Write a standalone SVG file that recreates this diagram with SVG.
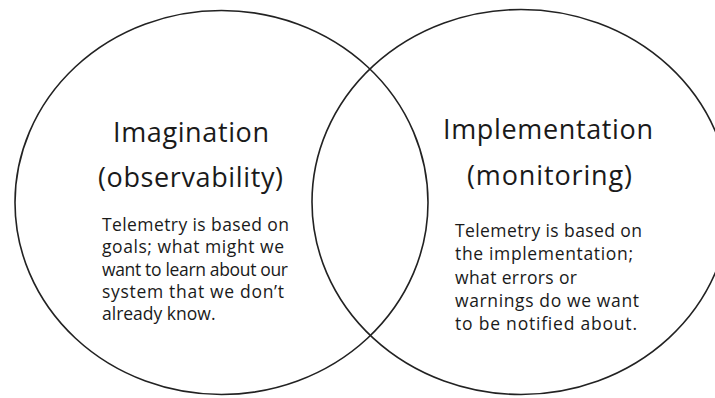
<svg xmlns="http://www.w3.org/2000/svg" width="715" height="398" viewBox="0 0 715 398">
<style>
.ring{fill:none;stroke:#222;stroke-width:1.6}
.title{font-family:"Open Sans","Noto Sans","Liberation Sans",sans-serif;font-size:27px;fill:#1a1a1a;font-variant-ligatures:none}
.body{font-family:"Open Sans","Noto Sans","Liberation Sans",sans-serif;font-size:17.5px;fill:#1a1a1a;font-variant-ligatures:none}
</style>
<rect width="715" height="398" fill="#fff"/>
<g id="imagination">
<ellipse class="ring" cx="221.5" cy="202.5" rx="206.5" ry="192"/>
<text class="title" x="113" y="142" textLength="156">Imagination</text>
<text class="title" x="98" y="187" textLength="185">(observability)</text>
<text class="body" x="102" y="231" textLength="187">Telemetry is based on</text>
<text class="body" x="102" y="253" textLength="182">goals; what might we</text>
<text class="body" x="102" y="276" textLength="186">want to learn about our</text>
<text class="body" x="102" y="298" textLength="182">system that we don’t</text>
<text class="body" x="102" y="320">already know.</text>
</g>
<g id="implementation">
<ellipse class="ring" cx="521" cy="202" rx="209" ry="192.5"/>
<text class="title" x="443" y="139" textLength="210">Implementation</text>
<text class="title" x="467" y="185" textLength="165">(monitoring)</text>
<text class="body" x="455" y="237" textLength="187">Telemetry is based on</text>
<text class="body" x="455" y="260" textLength="178">the implementation;</text>
<text class="body" x="455" y="284" textLength="122">what errors or</text>
<text class="body" x="455" y="307" textLength="184">warnings do we want</text>
<text class="body" x="455" y="330" textLength="182">to be notified about.</text>
</g>
<g id="connectors"/>
</svg>
